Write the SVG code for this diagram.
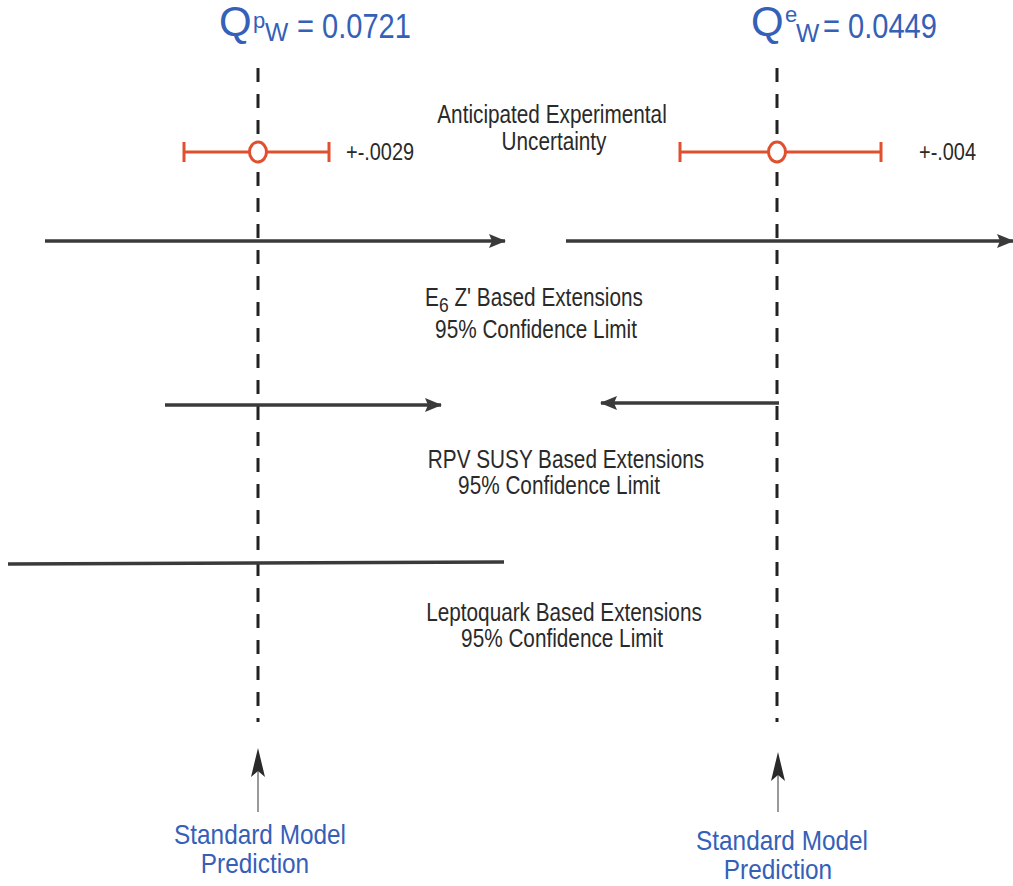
<svg xmlns="http://www.w3.org/2000/svg" width="1013" height="886" viewBox="0 0 1013 886">
<defs>
<style>
text{font-family:"Liberation Sans",Arial,Helvetica,sans-serif}
.t{fill:#2a2a2a}
.b{fill:#3560b8}
.lbl{font-size:25px;text-anchor:middle}
.sml{font-size:28px;text-anchor:middle}
.dash{stroke:#222;stroke-width:3;stroke-dasharray:14 12;fill:none}
.lim{stroke:#3a3a3a;stroke-width:3.5;fill:none}
.err{stroke:#e0502e;stroke-width:3;fill:none}
.sm{stroke:#555;stroke-width:1.2;fill:none}
</style>
<marker id="ah" markerWidth="18" markerHeight="14" refX="16" refY="7" orient="auto" markerUnits="userSpaceOnUse">
<path d="M0,0 L17,7 L0,14 L3,7 Z" fill="#3a3a3a"/>
</marker>
</defs>
<rect width="1013" height="886" fill="#fff"/>

<g id="title-left">
<text class="b" x="219" y="36" font-size="42">Q</text>
<text class="b" x="253" y="28" font-size="22">p</text>
<text class="b" transform="translate(265,41) scale(0.95,1)" font-size="26">W</text>
<text class="b" transform="translate(297,38) scale(0.83,1)" font-size="35">= 0.0721</text>
</g>
<g id="title-right">
<text class="b" x="751" y="36" font-size="42">Q</text>
<text class="b" x="785" y="22" font-size="22">e</text>
<text class="b" transform="translate(796,42) scale(0.95,1)" font-size="26">W</text>
<text class="b" transform="translate(823,38) scale(0.83,1)" font-size="35">= 0.0449</text>
</g>

<g id="sm-line-left">
<line class="dash" x1="258" y1="68" x2="258" y2="722"/>
</g>
<g id="sm-line-right">
<line class="dash" x1="777" y1="68" x2="777" y2="722"/>
</g>

<g id="uncertainty-left">
<line class="err" x1="184" y1="152" x2="249" y2="152"/>
<line class="err" x1="267" y1="152" x2="329" y2="152"/>
<line class="err" x1="184" y1="142" x2="184" y2="162"/>
<line class="err" x1="329" y1="142" x2="329" y2="162"/>
<ellipse cx="258" cy="152" rx="8.5" ry="10" fill="#fff" stroke="#e0502e" stroke-width="3"/>
<text class="t" transform="translate(346,160) scale(0.83,1)" font-size="24">+-.0029</text>
</g>
<g id="uncertainty-right">
<line class="err" x1="680" y1="152" x2="768" y2="152"/>
<line class="err" x1="786" y1="152" x2="881" y2="152"/>
<line class="err" x1="680" y1="142" x2="680" y2="162"/>
<line class="err" x1="881" y1="142" x2="881" y2="162"/>
<ellipse cx="777" cy="152" rx="8.5" ry="10" fill="#fff" stroke="#e0502e" stroke-width="3"/>
<text class="t" transform="translate(919,160) scale(0.83,1)" font-size="24">+-.004</text>
</g>
<g id="label-uncertainty">
<text class="t lbl" transform="translate(552,123) scale(0.83,1)">Anticipated Experimental</text>
<text class="t lbl" transform="translate(554,150) scale(0.83,1)">Uncertainty</text>
</g>

<g id="connectors">
<line class="lim" x1="45" y1="241" x2="505" y2="241" marker-end="url(#ah)"/>
<line class="lim" x1="566" y1="241" x2="1013" y2="241" marker-end="url(#ah)"/>
<line class="lim" x1="165" y1="405" x2="441" y2="405" marker-end="url(#ah)"/>
<line class="lim" x1="779" y1="403" x2="601" y2="403" marker-end="url(#ah)"/>
<line class="lim" x1="8" y1="564" x2="504" y2="562"/>
<line class="sm" x1="258" y1="812" x2="258" y2="770"/>
<path d="M258,748 L251,777 L258,771 L265,777 Z" fill="#2a2a2a"/>
<line class="sm" x1="778" y1="812" x2="778" y2="774"/>
<path d="M778,752 L771,781 L778,775 L785,781 Z" fill="#2a2a2a"/>
</g>

<g id="label-e6">
<text class="t lbl" transform="translate(534,306) scale(0.83,1)">E<tspan font-size="21" dy="6">6</tspan><tspan dy="-6"> Z' Based Extensions</tspan></text>
<text class="t lbl" transform="translate(536,338) scale(0.83,1)">95% Confidence Limit</text>
</g>
<g id="label-rpv">
<text class="t lbl" transform="translate(566,468) scale(0.83,1)">RPV SUSY Based Extensions</text>
<text class="t lbl" transform="translate(559,494) scale(0.83,1)">95% Confidence Limit</text>
</g>
<g id="label-lq">
<text class="t lbl" transform="translate(564,621) scale(0.83,1)">Leptoquark Based Extensions</text>
<text class="t lbl" transform="translate(562,647) scale(0.83,1)">95% Confidence Limit</text>
</g>

<g id="sm-label-left">
<text class="b sml" transform="translate(260,844) scale(0.87,1)">Standard Model</text>
<text class="b sml" transform="translate(255,873) scale(0.87,1)">Prediction</text>
</g>
<g id="sm-label-right">
<text class="b sml" transform="translate(782,850) scale(0.87,1)">Standard Model</text>
<text class="b sml" transform="translate(778,879) scale(0.87,1)">Prediction</text>
</g>
</svg>
